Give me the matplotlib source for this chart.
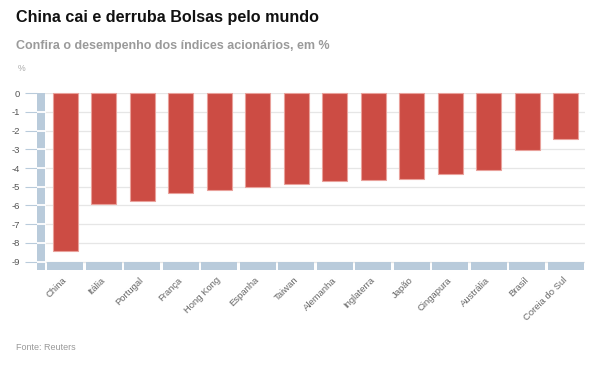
import numpy as np
import matplotlib
matplotlib.use("Agg")
import matplotlib.pyplot as plt
import matplotlib.transforms as mtrans
from matplotlib.patches import Rectangle

plt.rcParams['font.family'] = ['Liberation Sans', 'DejaVu Sans']

# data
paises = ["China", "Itália", "Portugal", "França", "Hong Kong", "Espanha", "Taiwan",
          "Alemanha", "Inglaterra", "Japão", "Cingapura", "Austrália", "Brasil", "Coreia do Sul"]
variacao = [-8.43, -5.94, -5.78, -5.34, -5.19, -5.01, -4.85,
            -4.71, -4.65, -4.57, -4.29, -4.08, -3.03, -2.46]
yticks = list(range(0, -10, -1))

titulo = "China cai e derruba Bolsas pelo mundo"
subtitulo = "Confira o desempenho dos índices acionários, em %"
fonte = "Fonte: Reuters"

W, H = 611, 374
fig = plt.figure(figsize=(W / 100, H / 100), dpi=100)
fig.patch.set_facecolor("white")

ax = fig.add_axes([37 / W, 1 - 270 / H, (585 - 37) / W, (270 - 93.3) / H])
x = np.arange(len(paises))
strip = "#b9cbdb"
ymin = -9.45
xleft = -0.5 - 9 / 38.5

ax.set_xlim(xleft, len(paises) - 0.5)
ax.set_ylim(ymin, 0)

# grid lines
for t in yticks:
    ax.axhline(t, color="#e6e6e6", lw=0.9, zorder=0)

ax.bar(x, variacao, width=0.66, color="#cc4c44", edgecolor="#e9a19b",
       linewidth=0.8, zorder=3, clip_on=False)

# x axis band under each category
gap = 0.03
for i in x:
    ax.add_patch(Rectangle((i - 0.5 + gap, ymin), 1 - 2 * gap, -9 - ymin,
                           color=strip, zorder=2, lw=0, clip_on=False))
# y axis band, cut by white lines at each tick
ax.add_patch(Rectangle((xleft, ymin), -0.5 - xleft - 0.03, -ymin,
                       color=strip, zorder=2, lw=0, clip_on=False))
for t in yticks[1:]:
    ax.plot([xleft, -0.5], [t, t], color="white", lw=1.3, zorder=2.5,
            solid_capstyle="butt")

for s in ax.spines.values():
    s.set_visible(False)
ax.set_yticks(yticks)
ax.set_yticklabels([str(t) for t in yticks])
ax.tick_params(axis="y", length=9, width=0.8, color="#b9cbdb", labelsize=6.8,
               labelcolor="#555555", pad=3)
ax.set_xticks(x)
ax.set_xticklabels(paises, rotation=45, ha="right", rotation_mode="anchor")
ax.tick_params(axis="x", length=0, labelsize=6.8, labelcolor="#666666", pad=4)
shift = mtrans.ScaledTranslation(-3 / 100, 0, fig.dpi_scale_trans)
for lab in ax.get_xticklabels():
    lab.set_transform(lab.get_transform() + shift)

fig.text(16 / W, 1 - 22 / H, titulo, fontsize=11.6, fontweight="bold", color="#111111")
fig.text(16 / W, 1 - 48.5 / H, subtitulo, fontsize=9, fontweight="bold", color="#9a9a9a")
fig.text(18 / W, 1 - 71 / H, "%", fontsize=6.3, color="#aaaaaa")
fig.text(16 / W, 1 - 349.5 / H, fonte, fontsize=6.5, color="#999999")

fig.savefig("out.png", dpi=100)
